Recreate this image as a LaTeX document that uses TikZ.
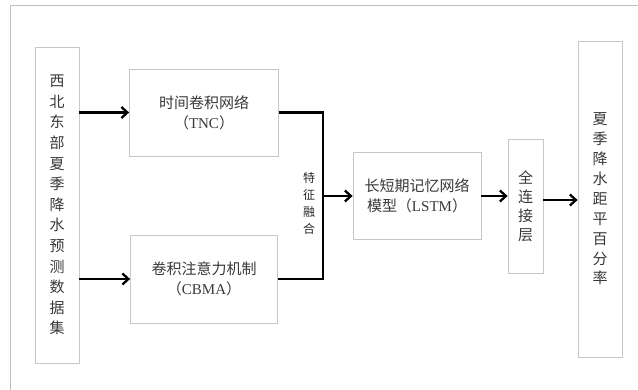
\documentclass[tikz,border=0pt]{standalone}
\usepackage{fontspec}
\setmainfont{Liberation Serif}
\newfontfamily\cjk{Noto Sans CJK SC}
\usetikzlibrary{arrows.meta}

\tikzset{
  box/.style={draw=black!22, line width=0.8pt, inner sep=0pt, text=black!78,
    font={\cjk\fontsize{15}{20}\selectfont}, align=center},
  flow/.style={line width=2.3pt, black},
  arr/.style={flow, -{Straight Barb[length=6pt, width=11pt, line width=2.3pt]}},
}

\begin{document}
\begin{tikzpicture}[x=1pt, y=-1pt]
      \useasboundingbox (0,0) rectangle (638,390);
      % Frame
      \draw[black!25, line width=0.8pt] (638,5) -- (10,5) -- (10,390);

      % Inputs and branches
      \node[box, minimum width=44pt, minimum height=316pt,
        font={\cjk\fontsize{15}{20.6}\selectfont}] (data) at (57,205)
        {西\\北\\东\\部\\夏\\季\\降\\水\\预\\测\\数\\据\\集};
      \node[box, minimum width=149pt, minimum height=87pt] (tnc) at (204,112.5)
        {时间卷积网络\\（{\rmfamily TNC}）};
      \node[box, minimum width=147pt, minimum height=88pt] (cbma) at (204,279)
        {卷积注意力机制\\（{\rmfamily CBMA}）};

      % Fusion
      \coordinate (fuse) at (323,196);
      \node[text=black!85, font={\cjk\fontsize{12}{17}\selectfont}, align=center,
        inner sep=0pt] (fuselbl) at (309,203) {特\\征\\融\\合};

      \node[box, minimum width=128pt, minimum height=87pt] (lstm) at (417,195.5)
        {长短期记忆网络\\模型（{\rmfamily LSTM}）};
      \node[box, minimum width=35pt, minimum height=134pt,
        font={\cjk\fontsize{15}{19}\selectfont}] (fc) at (525.5,206)
        {全\\连\\接\\层};
      \node[box, minimum width=44pt, minimum height=316pt,
        font={\cjk\fontsize{15}{19.9}\selectfont}] (out) at (600,199)
        {夏\\季\\降\\水\\距\\平\\百\\分\\率};

      % Connectors
      \draw[arr] (data.east |- tnc.west) -- (tnc.west);
      \draw[arr] (data.east |- cbma.west) -- (cbma.west);
      \draw[flow] (tnc.east) -| (fuse) |- (cbma.east);
      \draw[arr] (fuse) -- (lstm.west |- fuse);
      \draw[arr] (lstm.east |- fuse) -- (fc.west |- fuse);
      \coordinate (fcout) at ([yshift=6pt]fc.east);
      \draw[arr] (fcout) -- (out.west |- fcout);
\end{tikzpicture}
\end{document}
